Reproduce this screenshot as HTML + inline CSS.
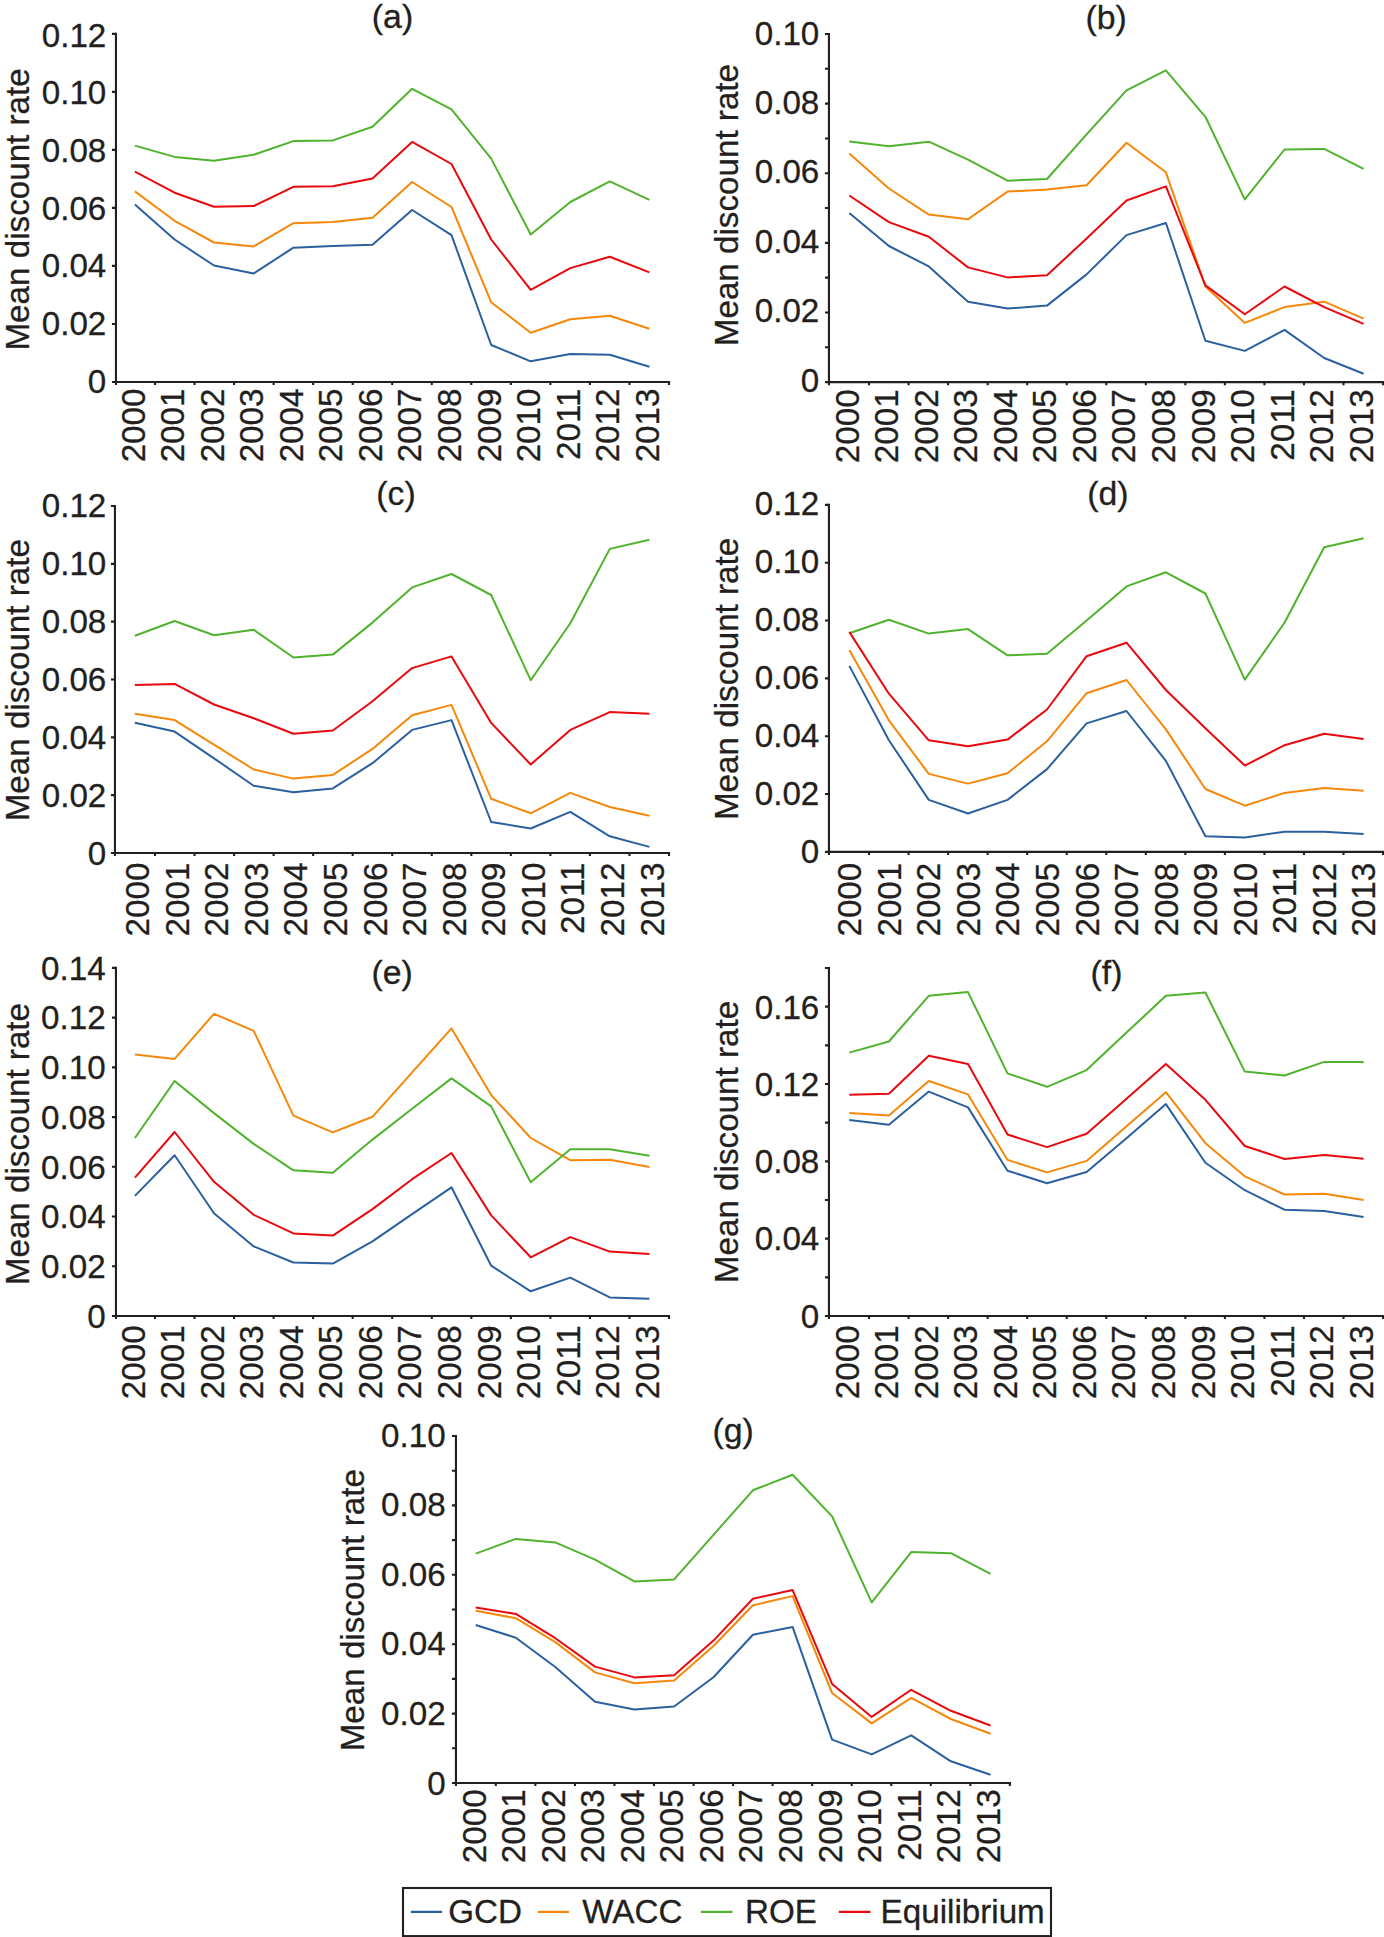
<!DOCTYPE html>
<html lang="en">
<head>
<meta charset="utf-8">
<title>Mean discount rate</title>
<style>
html,body{margin:0;padding:0;background:#fff;}
svg{display:block;}
text{font-family:"Liberation Sans",Arial,Helvetica,sans-serif;font-size:33.2px;fill:#231f20;stroke:#231f20;stroke-width:0.3px;}
.tt{font-size:33.8px;}
.ax{stroke:#231f20;stroke-width:2.1;fill:none;stroke-linecap:butt;}
.ln{fill:none;stroke-width:2.0;stroke-linejoin:round;stroke-linecap:butt;}
</style>
</head>
<body>
<svg width="1384" height="1937" viewBox="0 0 1384 1937">
<rect x="0" y="0" width="1384" height="1937" fill="#ffffff"/>
<g id="chart-a">
<path class="ax" d="M115.95 32.80V381.95H670.10"/>
<path class="ax" d="M111.95 381.95H115.95M111.95 323.93H115.95M111.95 265.92H115.95M111.95 207.90H115.95M111.95 149.88H115.95M111.95 91.87H115.95M111.95 33.85H115.95M115.95 381.95v3.1M154.99 381.95v3.1M194.53 381.95v3.1M234.07 381.95v3.1M273.61 381.95v3.1M313.15 381.95v3.1M352.69 381.95v3.1M392.23 381.95v3.1M431.77 381.95v3.1M471.31 381.95v3.1M510.85 381.95v3.1M550.39 381.95v3.1M589.93 381.95v3.1M629.47 381.95v3.1M669.01 381.95v3.1"/>
<text x="106.3" y="392.6" text-anchor="end">0</text>
<text x="106.3" y="334.9" text-anchor="end">0.02</text>
<text x="106.3" y="277.2" text-anchor="end">0.04</text>
<text x="106.3" y="219.6" text-anchor="end">0.06</text>
<text x="106.3" y="161.9" text-anchor="end">0.08</text>
<text x="106.3" y="104.2" text-anchor="end">0.10</text>
<text x="106.3" y="46.6" text-anchor="end">0.12</text>
<text transform="translate(144.5 388.5) rotate(-90)" text-anchor="end">2000</text>
<text transform="translate(184.1 388.5) rotate(-90)" text-anchor="end">2001</text>
<text transform="translate(223.6 388.5) rotate(-90)" text-anchor="end">2002</text>
<text transform="translate(263.2 388.5) rotate(-90)" text-anchor="end">2003</text>
<text transform="translate(302.7 388.5) rotate(-90)" text-anchor="end">2004</text>
<text transform="translate(342.3 388.5) rotate(-90)" text-anchor="end">2005</text>
<text transform="translate(381.9 388.5) rotate(-90)" text-anchor="end">2006</text>
<text transform="translate(421.4 388.5) rotate(-90)" text-anchor="end">2007</text>
<text transform="translate(461.0 388.5) rotate(-90)" text-anchor="end">2008</text>
<text transform="translate(500.5 388.5) rotate(-90)" text-anchor="end">2009</text>
<text transform="translate(540.1 388.5) rotate(-90)" text-anchor="end">2010</text>
<text transform="translate(579.7 388.5) rotate(-90)" text-anchor="end">2011</text>
<text transform="translate(619.2 388.5) rotate(-90)" text-anchor="end">2012</text>
<text transform="translate(658.8 388.5) rotate(-90)" text-anchor="end">2013</text>
<text transform="translate(29.4 209.4) rotate(-90)" text-anchor="middle">Mean discount rate</text>
<text class="tt" x="392.5" y="28.4" text-anchor="middle">(a)</text>
<polyline class="ln" stroke="#2a609e" points="134.9,204.6 174.6,239.5 214.0,265.5 253.7,273.5 293.4,247.7 332.8,246.0 372.5,244.7 412.1,210.0 451.5,235.1 491.2,345.0 530.7,361.3 570.3,353.9 609.8,354.8 649.4,366.7"/>
<polyline class="ln" stroke="#f5880a" points="134.9,191.4 174.6,220.8 214.0,242.5 253.7,246.4 293.4,223.2 332.8,221.9 372.5,217.8 412.1,182.0 451.5,207.0 491.2,302.3 530.7,332.7 570.3,319.2 609.8,315.8 649.4,328.8"/>
<polyline class="ln" stroke="#4fb32e" points="134.9,145.6 174.6,156.9 214.0,160.8 253.7,154.7 293.4,141.1 332.8,140.4 372.5,126.8 412.1,88.8 451.5,109.4 491.2,158.6 530.7,234.5 570.3,202.0 609.8,181.4 649.4,199.8"/>
<polyline class="ln" stroke="#e8080d" points="134.9,171.6 174.6,192.7 214.0,206.7 253.7,206.1 293.4,186.8 332.8,186.2 372.5,178.4 412.1,141.9 451.5,164.0 491.2,239.5 530.7,289.8 570.3,268.1 609.8,256.8 649.4,272.4"/>
</g>
<g id="chart-b">
<path class="ax" d="M828.95 32.95V382.10H1384.50"/>
<path class="ax" d="M824.95 382.10H828.95M824.95 347.29H828.95M824.95 312.48H828.95M824.95 277.67H828.95M824.95 242.86H828.95M824.95 208.05H828.95M824.95 173.24H828.95M824.95 138.43H828.95M824.95 103.62H828.95M824.95 68.81H828.95M824.95 34.00H828.95M828.95 382.10v3.1M869.04 382.10v3.1M908.58 382.10v3.1M948.12 382.10v3.1M987.66 382.10v3.1M1027.20 382.10v3.1M1066.74 382.10v3.1M1106.28 382.10v3.1M1145.82 382.10v3.1M1185.36 382.10v3.1M1224.90 382.10v3.1M1264.44 382.10v3.1M1303.98 382.10v3.1M1343.52 382.10v3.1M1383.06 382.10v3.1"/>
<text x="819.3" y="391.7" text-anchor="end">0</text>
<text x="819.3" y="322.3" text-anchor="end">0.02</text>
<text x="819.3" y="252.9" text-anchor="end">0.04</text>
<text x="819.3" y="183.4" text-anchor="end">0.06</text>
<text x="819.3" y="114.0" text-anchor="end">0.08</text>
<text x="819.3" y="44.6" text-anchor="end">0.10</text>
<text transform="translate(858.5 389.3) rotate(-90)" text-anchor="end">2000</text>
<text transform="translate(898.1 389.3) rotate(-90)" text-anchor="end">2001</text>
<text transform="translate(937.6 389.3) rotate(-90)" text-anchor="end">2002</text>
<text transform="translate(977.2 389.3) rotate(-90)" text-anchor="end">2003</text>
<text transform="translate(1016.7 389.3) rotate(-90)" text-anchor="end">2004</text>
<text transform="translate(1056.3 389.3) rotate(-90)" text-anchor="end">2005</text>
<text transform="translate(1095.9 389.3) rotate(-90)" text-anchor="end">2006</text>
<text transform="translate(1135.4 389.3) rotate(-90)" text-anchor="end">2007</text>
<text transform="translate(1175.0 389.3) rotate(-90)" text-anchor="end">2008</text>
<text transform="translate(1214.5 389.3) rotate(-90)" text-anchor="end">2009</text>
<text transform="translate(1254.1 389.3) rotate(-90)" text-anchor="end">2010</text>
<text transform="translate(1293.7 389.3) rotate(-90)" text-anchor="end">2011</text>
<text transform="translate(1333.2 389.3) rotate(-90)" text-anchor="end">2012</text>
<text transform="translate(1372.8 389.3) rotate(-90)" text-anchor="end">2013</text>
<text transform="translate(738.3 205.1) rotate(-90)" text-anchor="middle">Mean discount rate</text>
<text class="tt" x="1106.05" y="29.3" text-anchor="middle">(b)</text>
<polyline class="ln" stroke="#2a609e" points="849.3,213.0 888.9,246.0 928.8,266.4 968.0,301.7 1007.5,308.6 1047.0,305.6 1086.6,274.4 1126.5,235.1 1165.9,223.0 1205.4,340.7 1244.8,350.9 1284.5,329.9 1324.2,358.0 1363.6,373.7"/>
<polyline class="ln" stroke="#f5880a" points="849.3,153.6 888.9,188.5 928.8,214.6 968.0,219.3 1007.5,191.6 1047.0,189.6 1086.6,185.3 1126.5,142.8 1165.9,172.3 1205.4,286.5 1244.8,322.9 1284.5,307.1 1324.2,301.7 1363.6,318.6"/>
<polyline class="ln" stroke="#4fb32e" points="849.3,141.5 888.9,146.3 928.8,141.7 968.0,159.7 1007.5,180.7 1047.0,179.0 1086.6,134.3 1126.5,90.3 1165.9,70.4 1205.4,116.8 1244.8,199.4 1284.5,149.5 1324.2,148.9 1363.6,168.8"/>
<polyline class="ln" stroke="#e8080d" points="849.3,195.5 888.9,222.1 928.8,236.7 968.0,267.4 1007.5,277.4 1047.0,275.2 1086.6,238.6 1126.5,200.5 1165.9,186.4 1205.4,285.4 1244.8,314.3 1284.5,286.5 1324.2,307.1 1363.6,323.8"/>
</g>
<g id="chart-c">
<path class="ax" d="M114.95 504.95V853.00H670.10"/>
<path class="ax" d="M110.95 853.00H114.95M110.95 795.17H114.95M110.95 737.33H114.95M110.95 679.50H114.95M110.95 621.67H114.95M110.95 563.83H114.95M110.95 506.00H114.95M114.95 853.00v3.1M154.99 853.00v3.1M194.53 853.00v3.1M234.07 853.00v3.1M273.61 853.00v3.1M313.15 853.00v3.1M352.69 853.00v3.1M392.23 853.00v3.1M431.77 853.00v3.1M471.31 853.00v3.1M510.85 853.00v3.1M550.39 853.00v3.1M589.93 853.00v3.1M629.47 853.00v3.1M669.01 853.00v3.1"/>
<text x="106.3" y="864.6" text-anchor="end">0</text>
<text x="106.3" y="806.6" text-anchor="end">0.02</text>
<text x="106.3" y="748.6" text-anchor="end">0.04</text>
<text x="106.3" y="690.6" text-anchor="end">0.06</text>
<text x="106.3" y="632.6" text-anchor="end">0.08</text>
<text x="106.3" y="574.6" text-anchor="end">0.10</text>
<text x="106.3" y="516.6" text-anchor="end">0.12</text>
<text transform="translate(149.2 862.6) rotate(-90)" text-anchor="end">2000</text>
<text transform="translate(188.8 862.6) rotate(-90)" text-anchor="end">2001</text>
<text transform="translate(228.3 862.6) rotate(-90)" text-anchor="end">2002</text>
<text transform="translate(267.9 862.6) rotate(-90)" text-anchor="end">2003</text>
<text transform="translate(307.4 862.6) rotate(-90)" text-anchor="end">2004</text>
<text transform="translate(347.0 862.6) rotate(-90)" text-anchor="end">2005</text>
<text transform="translate(386.6 862.6) rotate(-90)" text-anchor="end">2006</text>
<text transform="translate(426.1 862.6) rotate(-90)" text-anchor="end">2007</text>
<text transform="translate(465.7 862.6) rotate(-90)" text-anchor="end">2008</text>
<text transform="translate(505.2 862.6) rotate(-90)" text-anchor="end">2009</text>
<text transform="translate(544.8 862.6) rotate(-90)" text-anchor="end">2010</text>
<text transform="translate(584.4 862.6) rotate(-90)" text-anchor="end">2011</text>
<text transform="translate(623.9 862.6) rotate(-90)" text-anchor="end">2012</text>
<text transform="translate(663.5 862.6) rotate(-90)" text-anchor="end">2013</text>
<text transform="translate(29.4 680.2) rotate(-90)" text-anchor="middle">Mean discount rate</text>
<text class="tt" x="396.0" y="505.3" text-anchor="middle">(c)</text>
<polyline class="ln" stroke="#2a609e" points="134.9,722.7 174.6,731.6 214.0,758.3 253.7,785.8 293.4,792.3 332.8,788.4 372.5,763.2 412.1,729.9 451.5,720.1 491.2,822.0 530.7,828.5 570.3,811.8 609.8,836.3 649.4,846.9"/>
<polyline class="ln" stroke="#f5880a" points="134.9,713.8 174.6,720.1 214.0,744.6 253.7,769.5 293.4,778.6 332.8,774.9 372.5,748.9 412.1,715.3 451.5,704.9 491.2,798.8 530.7,813.3 570.3,792.9 609.8,807.0 649.4,815.7"/>
<polyline class="ln" stroke="#4fb32e" points="134.9,635.8 174.6,621.0 214.0,635.3 253.7,629.7 293.4,657.5 332.8,654.6 372.5,622.6 412.1,587.4 451.5,574.0 491.2,595.0 530.7,680.2 570.3,623.2 609.8,548.9 649.4,539.8"/>
<polyline class="ln" stroke="#e8080d" points="134.9,685.0 174.6,683.9 214.0,704.5 253.7,718.2 293.4,733.8 332.8,730.5 372.5,701.2 412.1,668.1 451.5,656.4 491.2,722.9 530.7,764.5 570.3,729.9 609.8,712.1 649.4,713.8"/>
</g>
<g id="chart-d">
<path class="ax" d="M828.95 503.85V851.90H1384.50"/>
<path class="ax" d="M824.95 851.90H828.95M824.95 794.07H828.95M824.95 736.23H828.95M824.95 678.40H828.95M824.95 620.57H828.95M824.95 562.73H828.95M824.95 504.90H828.95M828.95 851.90v3.1M869.04 851.90v3.1M908.58 851.90v3.1M948.12 851.90v3.1M987.66 851.90v3.1M1027.20 851.90v3.1M1066.74 851.90v3.1M1106.28 851.90v3.1M1145.82 851.90v3.1M1185.36 851.90v3.1M1224.90 851.90v3.1M1264.44 851.90v3.1M1303.98 851.90v3.1M1343.52 851.90v3.1M1383.06 851.90v3.1"/>
<text x="819.3" y="862.7" text-anchor="end">0</text>
<text x="819.3" y="804.7" text-anchor="end">0.02</text>
<text x="819.3" y="746.7" text-anchor="end">0.04</text>
<text x="819.3" y="688.7" text-anchor="end">0.06</text>
<text x="819.3" y="630.7" text-anchor="end">0.08</text>
<text x="819.3" y="572.7" text-anchor="end">0.10</text>
<text x="819.3" y="514.6" text-anchor="end">0.12</text>
<text transform="translate(861.1 862.7) rotate(-90)" text-anchor="end">2000</text>
<text transform="translate(900.7 862.7) rotate(-90)" text-anchor="end">2001</text>
<text transform="translate(940.2 862.7) rotate(-90)" text-anchor="end">2002</text>
<text transform="translate(979.8 862.7) rotate(-90)" text-anchor="end">2003</text>
<text transform="translate(1019.3 862.7) rotate(-90)" text-anchor="end">2004</text>
<text transform="translate(1058.9 862.7) rotate(-90)" text-anchor="end">2005</text>
<text transform="translate(1098.5 862.7) rotate(-90)" text-anchor="end">2006</text>
<text transform="translate(1138.0 862.7) rotate(-90)" text-anchor="end">2007</text>
<text transform="translate(1177.6 862.7) rotate(-90)" text-anchor="end">2008</text>
<text transform="translate(1217.1 862.7) rotate(-90)" text-anchor="end">2009</text>
<text transform="translate(1256.7 862.7) rotate(-90)" text-anchor="end">2010</text>
<text transform="translate(1296.3 862.7) rotate(-90)" text-anchor="end">2011</text>
<text transform="translate(1335.8 862.7) rotate(-90)" text-anchor="end">2012</text>
<text transform="translate(1375.4 862.7) rotate(-90)" text-anchor="end">2013</text>
<text transform="translate(738.3 678.9) rotate(-90)" text-anchor="middle">Mean discount rate</text>
<text class="tt" x="1107.95" y="505.3" text-anchor="middle">(d)</text>
<polyline class="ln" stroke="#2a609e" points="849.3,665.9 888.9,740.3 928.8,799.9 968.0,813.5 1007.5,799.9 1047.0,769.1 1086.6,723.4 1126.5,711.0 1165.9,760.9 1205.4,836.3 1244.8,837.4 1284.5,831.7 1324.2,831.7 1363.6,833.9"/>
<polyline class="ln" stroke="#f5880a" points="849.3,649.9 888.9,720.3 928.8,773.9 968.0,783.6 1007.5,773.2 1047.0,741.3 1086.6,693.2 1126.5,680.0 1165.9,729.4 1205.4,789.0 1244.8,805.7 1284.5,792.9 1324.2,787.9 1363.6,790.8"/>
<polyline class="ln" stroke="#4fb32e" points="849.3,633.2 888.9,619.7 928.8,633.6 968.0,629.1 1007.5,655.3 1047.0,653.8 1086.6,620.6 1126.5,586.4 1165.9,572.3 1205.4,593.5 1244.8,679.6 1284.5,622.8 1324.2,547.3 1363.6,538.2"/>
<polyline class="ln" stroke="#e8080d" points="849.3,631.9 888.9,693.7 928.8,740.3 968.0,746.3 1007.5,739.6 1047.0,709.5 1086.6,656.2 1126.5,642.7 1165.9,690.0 1205.4,728.3 1244.8,765.6 1284.5,745.2 1324.2,733.8 1363.6,739.0"/>
</g>
<g id="chart-e">
<path class="ax" d="M115.95 966.85V1316.00H670.10"/>
<path class="ax" d="M111.95 1316.00H115.95M111.95 1266.27H115.95M111.95 1216.54H115.95M111.95 1166.81H115.95M111.95 1117.09H115.95M111.95 1067.36H115.95M111.95 1017.63H115.95M111.95 967.90H115.95M115.95 1316.00v3.1M154.99 1316.00v3.1M194.53 1316.00v3.1M234.07 1316.00v3.1M273.61 1316.00v3.1M313.15 1316.00v3.1M352.69 1316.00v3.1M392.23 1316.00v3.1M431.77 1316.00v3.1M471.31 1316.00v3.1M510.85 1316.00v3.1M550.39 1316.00v3.1M589.93 1316.00v3.1M629.47 1316.00v3.1M669.01 1316.00v3.1"/>
<text x="105.7" y="1327.7" text-anchor="end">0</text>
<text x="105.7" y="1278.0" text-anchor="end">0.02</text>
<text x="105.7" y="1228.2" text-anchor="end">0.04</text>
<text x="105.7" y="1178.5" text-anchor="end">0.06</text>
<text x="105.7" y="1128.8" text-anchor="end">0.08</text>
<text x="105.7" y="1079.1" text-anchor="end">0.10</text>
<text x="105.7" y="1029.3" text-anchor="end">0.12</text>
<text x="105.7" y="979.6" text-anchor="end">0.14</text>
<text transform="translate(144.5 1325.4) rotate(-90)" text-anchor="end">2000</text>
<text transform="translate(184.1 1325.4) rotate(-90)" text-anchor="end">2001</text>
<text transform="translate(223.6 1325.4) rotate(-90)" text-anchor="end">2002</text>
<text transform="translate(263.2 1325.4) rotate(-90)" text-anchor="end">2003</text>
<text transform="translate(302.7 1325.4) rotate(-90)" text-anchor="end">2004</text>
<text transform="translate(342.3 1325.4) rotate(-90)" text-anchor="end">2005</text>
<text transform="translate(381.9 1325.4) rotate(-90)" text-anchor="end">2006</text>
<text transform="translate(421.4 1325.4) rotate(-90)" text-anchor="end">2007</text>
<text transform="translate(461.0 1325.4) rotate(-90)" text-anchor="end">2008</text>
<text transform="translate(500.5 1325.4) rotate(-90)" text-anchor="end">2009</text>
<text transform="translate(540.1 1325.4) rotate(-90)" text-anchor="end">2010</text>
<text transform="translate(579.7 1325.4) rotate(-90)" text-anchor="end">2011</text>
<text transform="translate(619.2 1325.4) rotate(-90)" text-anchor="end">2012</text>
<text transform="translate(658.8 1325.4) rotate(-90)" text-anchor="end">2013</text>
<text transform="translate(29.4 1144.1) rotate(-90)" text-anchor="middle">Mean discount rate</text>
<text class="tt" x="392.05" y="984.3" text-anchor="middle">(e)</text>
<polyline class="ln" stroke="#2a609e" points="134.9,1195.9 174.6,1155.2 214.0,1213.3 253.7,1246.4 293.4,1262.5 332.8,1263.6 372.5,1241.4 412.1,1214.1 451.5,1187.3 491.2,1265.7 530.7,1291.3 570.3,1277.6 609.8,1297.4 649.4,1298.7"/>
<polyline class="ln" stroke="#f5880a" points="134.9,1054.6 174.6,1058.9 214.0,1013.8 253.7,1030.8 293.4,1115.7 332.8,1132.4 372.5,1116.8 412.1,1072.4 451.5,1028.4 491.2,1095.1 530.7,1138.0 570.3,1160.2 609.8,1159.7 649.4,1167.1"/>
<polyline class="ln" stroke="#4fb32e" points="134.9,1138.0 174.6,1081.0 214.0,1113.1 253.7,1143.9 293.4,1170.3 332.8,1172.7 372.5,1139.6 412.1,1108.8 451.5,1078.4 491.2,1106.4 530.7,1182.3 570.3,1149.3 609.8,1149.3 649.4,1155.8"/>
<polyline class="ln" stroke="#e8080d" points="134.9,1177.7 174.6,1132.0 214.0,1181.8 253.7,1214.8 293.4,1233.4 332.8,1235.6 372.5,1209.1 412.1,1179.2 451.5,1153.0 491.2,1215.4 530.7,1257.3 570.3,1237.1 609.8,1251.6 649.4,1254.0"/>
</g>
<g id="chart-f">
<path class="ax" d="M828.95 966.95V1316.00H1384.50"/>
<path class="ax" d="M824.95 1316.00H828.95M824.95 1277.33H828.95M824.95 1238.67H828.95M824.95 1200.00H828.95M824.95 1161.33H828.95M824.95 1122.67H828.95M824.95 1084.00H828.95M824.95 1045.33H828.95M824.95 1006.67H828.95M824.95 968.00H828.95M828.95 1316.00v3.1M869.04 1316.00v3.1M908.58 1316.00v3.1M948.12 1316.00v3.1M987.66 1316.00v3.1M1027.20 1316.00v3.1M1066.74 1316.00v3.1M1106.28 1316.00v3.1M1145.82 1316.00v3.1M1185.36 1316.00v3.1M1224.90 1316.00v3.1M1264.44 1316.00v3.1M1303.98 1316.00v3.1M1343.52 1316.00v3.1M1383.06 1316.00v3.1"/>
<text x="819.3" y="1327.7" text-anchor="end">0</text>
<text x="819.3" y="1250.4" text-anchor="end">0.04</text>
<text x="819.3" y="1173.2" text-anchor="end">0.08</text>
<text x="819.3" y="1095.9" text-anchor="end">0.12</text>
<text x="819.3" y="1018.7" text-anchor="end">0.16</text>
<text transform="translate(858.5 1325.4) rotate(-90)" text-anchor="end">2000</text>
<text transform="translate(898.1 1325.4) rotate(-90)" text-anchor="end">2001</text>
<text transform="translate(937.6 1325.4) rotate(-90)" text-anchor="end">2002</text>
<text transform="translate(977.2 1325.4) rotate(-90)" text-anchor="end">2003</text>
<text transform="translate(1016.7 1325.4) rotate(-90)" text-anchor="end">2004</text>
<text transform="translate(1056.3 1325.4) rotate(-90)" text-anchor="end">2005</text>
<text transform="translate(1095.9 1325.4) rotate(-90)" text-anchor="end">2006</text>
<text transform="translate(1135.4 1325.4) rotate(-90)" text-anchor="end">2007</text>
<text transform="translate(1175.0 1325.4) rotate(-90)" text-anchor="end">2008</text>
<text transform="translate(1214.5 1325.4) rotate(-90)" text-anchor="end">2009</text>
<text transform="translate(1254.1 1325.4) rotate(-90)" text-anchor="end">2010</text>
<text transform="translate(1293.7 1325.4) rotate(-90)" text-anchor="end">2011</text>
<text transform="translate(1333.2 1325.4) rotate(-90)" text-anchor="end">2012</text>
<text transform="translate(1372.8 1325.4) rotate(-90)" text-anchor="end">2013</text>
<text transform="translate(738.3 1142.0) rotate(-90)" text-anchor="middle">Mean discount rate</text>
<text class="tt" x="1106.5" y="984.3" text-anchor="middle">(f)</text>
<polyline class="ln" stroke="#2a609e" points="849.3,1120.0 888.9,1124.7 928.8,1091.6 968.0,1107.4 1007.5,1170.7 1047.0,1183.3 1086.6,1172.0 1126.5,1138.2 1165.9,1104.1 1205.4,1162.7 1244.8,1190.2 1284.5,1209.7 1324.2,1211.0 1363.6,1216.9"/>
<polyline class="ln" stroke="#f5880a" points="849.3,1113.0 888.9,1115.4 928.8,1081.0 968.0,1094.4 1007.5,1159.9 1047.0,1172.4 1086.6,1160.9 1126.5,1126.3 1165.9,1092.2 1205.4,1143.2 1244.8,1176.3 1284.5,1194.5 1324.2,1193.7 1363.6,1200.0"/>
<polyline class="ln" stroke="#4fb32e" points="849.3,1052.6 888.9,1041.5 928.8,995.8 968.0,992.1 1007.5,1073.4 1047.0,1086.8 1086.6,1070.1 1126.5,1032.6 1165.9,995.8 1205.4,992.5 1244.8,1071.6 1284.5,1075.5 1324.2,1061.9 1363.6,1061.9"/>
<polyline class="ln" stroke="#e8080d" points="849.3,1094.8 888.9,1093.7 928.8,1055.8 968.0,1064.0 1007.5,1134.5 1047.0,1147.1 1086.6,1133.8 1126.5,1098.7 1165.9,1064.0 1205.4,1099.8 1244.8,1146.0 1284.5,1159.0 1324.2,1155.1 1363.6,1158.8"/>
</g>
<g id="chart-g">
<path class="ax" d="M455.95 1434.95V1783.00H1011.00"/>
<path class="ax" d="M451.95 1783.00H455.95M451.95 1748.30H455.95M451.95 1713.60H455.95M451.95 1678.90H455.95M451.95 1644.20H455.95M451.95 1609.50H455.95M451.95 1574.80H455.95M451.95 1540.10H455.95M451.95 1505.40H455.95M451.95 1470.70H455.95M451.95 1436.00H455.95M455.95 1783.00v3.1M495.84 1783.00v3.1M535.38 1783.00v3.1M574.92 1783.00v3.1M614.46 1783.00v3.1M654.00 1783.00v3.1M693.54 1783.00v3.1M733.08 1783.00v3.1M772.62 1783.00v3.1M812.16 1783.00v3.1M851.70 1783.00v3.1M891.24 1783.00v3.1M930.78 1783.00v3.1M970.32 1783.00v3.1M1009.86 1783.00v3.1"/>
<text x="445.6" y="1794.6" text-anchor="end">0</text>
<text x="445.6" y="1725.0" text-anchor="end">0.02</text>
<text x="445.6" y="1655.4" text-anchor="end">0.04</text>
<text x="445.6" y="1585.8" text-anchor="end">0.06</text>
<text x="445.6" y="1516.2" text-anchor="end">0.08</text>
<text x="445.6" y="1446.6" text-anchor="end">0.10</text>
<text transform="translate(485.5 1789.3) rotate(-90)" text-anchor="end">2000</text>
<text transform="translate(525.1 1789.3) rotate(-90)" text-anchor="end">2001</text>
<text transform="translate(564.6 1789.3) rotate(-90)" text-anchor="end">2002</text>
<text transform="translate(604.2 1789.3) rotate(-90)" text-anchor="end">2003</text>
<text transform="translate(643.7 1789.3) rotate(-90)" text-anchor="end">2004</text>
<text transform="translate(683.3 1789.3) rotate(-90)" text-anchor="end">2005</text>
<text transform="translate(722.9 1789.3) rotate(-90)" text-anchor="end">2006</text>
<text transform="translate(762.4 1789.3) rotate(-90)" text-anchor="end">2007</text>
<text transform="translate(802.0 1789.3) rotate(-90)" text-anchor="end">2008</text>
<text transform="translate(841.5 1789.3) rotate(-90)" text-anchor="end">2009</text>
<text transform="translate(881.1 1789.3) rotate(-90)" text-anchor="end">2010</text>
<text transform="translate(920.7 1789.3) rotate(-90)" text-anchor="end">2011</text>
<text transform="translate(960.2 1789.3) rotate(-90)" text-anchor="end">2012</text>
<text transform="translate(999.8 1789.3) rotate(-90)" text-anchor="end">2013</text>
<text transform="translate(364.1 1610.2) rotate(-90)" text-anchor="middle">Mean discount rate</text>
<text class="tt" x="733.05" y="1442.3" text-anchor="middle">(g)</text>
<polyline class="ln" stroke="#2a609e" points="475.7,1625.0 515.8,1637.7 555.3,1667.0 595.0,1701.7 634.4,1709.5 674.1,1706.5 713.5,1677.2 752.9,1634.7 792.6,1626.9 832.1,1739.6 871.7,1754.4 911.2,1735.3 950.9,1761.3 990.5,1774.7"/>
<polyline class="ln" stroke="#f5880a" points="475.7,1610.7 515.8,1618.2 555.3,1642.1 595.0,1672.4 634.4,1683.3 674.1,1680.4 713.5,1646.0 752.9,1605.2 792.6,1596.1 832.1,1693.0 871.7,1723.4 911.2,1697.8 950.9,1719.0 990.5,1733.8"/>
<polyline class="ln" stroke="#4fb32e" points="475.7,1553.6 515.8,1538.9 555.3,1542.4 595.0,1559.7 634.4,1581.4 674.1,1579.4 713.5,1534.8 752.9,1490.3 792.6,1474.7 832.1,1516.4 871.7,1602.4 911.2,1552.1 950.9,1553.2 990.5,1573.8"/>
<polyline class="ln" stroke="#e8080d" points="475.7,1607.4 515.8,1613.9 555.3,1638.2 595.0,1666.6 634.4,1677.4 674.1,1675.2 713.5,1640.6 752.9,1598.7 792.6,1590.1 832.1,1683.9 871.7,1716.9 911.2,1689.8 950.9,1710.8 990.5,1725.5"/>
</g>
<g id="legend">
<rect x="403" y="1888" width="648" height="48.1" fill="#fff" stroke="#231f20" stroke-width="2.1"/>
<line x1="410.9" y1="1911.9" x2="442.1" y2="1911.9" stroke="#2a609e" stroke-width="2.2"/>
<text x="448.2" y="1923">GCD</text>
<line x1="537.9" y1="1911.9" x2="569.0" y2="1911.9" stroke="#f5880a" stroke-width="2.2"/>
<text x="582.2" y="1923">WACC</text>
<line x1="700.9" y1="1911.9" x2="732.5" y2="1911.9" stroke="#4fb32e" stroke-width="2.2"/>
<text x="745.0" y="1923">ROE</text>
<line x1="838.9" y1="1911.9" x2="870.5" y2="1911.9" stroke="#e8080d" stroke-width="2.2"/>
<text x="880.6" y="1923">Equilibrium</text>
</g>
</svg>
</body>
</html>
